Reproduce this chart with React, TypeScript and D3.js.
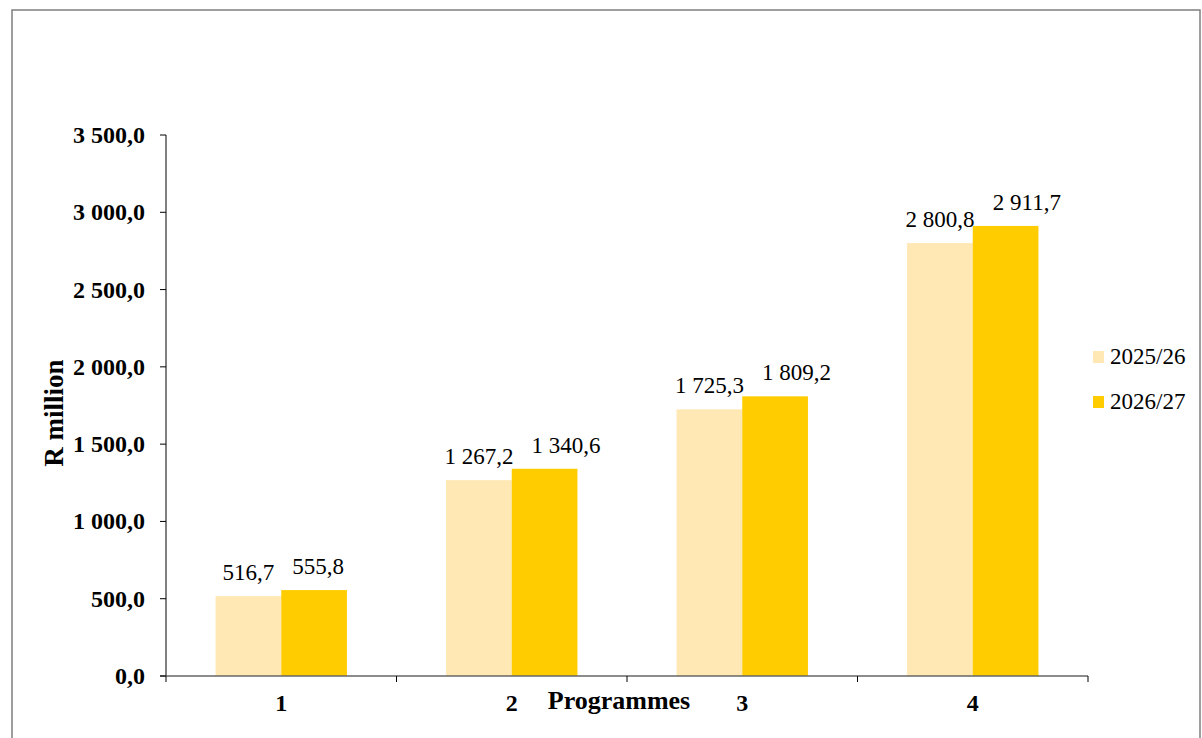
import React from "react";
import * as d3 from "d3";

const categories = ["1", "2", "3", "4"];
const seriesNames = ["2025/26", "2026/27"];
const values2025 = [516.7, 1267.2, 1725.3, 2800.8];
const values2026 = [555.8, 1340.6, 1809.2, 2911.7];
const yTicks = [0, 500, 1000, 1500, 2000, 2500, 3000, 3500];
const colors = ["#FFE8B3", "#FFCC00"];

const fmt = (v: number, dec: number) => {
  const s = v.toFixed(dec);
  const [i, d] = s.split(".");
  const ip = i.replace(/\B(?=(\d{3})+(?!\d))/g, " ");
  return d !== undefined ? ip + "," + d : ip;
};

const FONT = "Liberation Serif";
const LABEL_SIZE = 23;
// approximate Times advance widths: digits 0.5em, space/comma 0.25em
const textWidth = (s: string, size: number) =>
  s.split("").reduce((a, ch) => a + (/[0-9]/.test(ch) ? 0.5 : 0.25), 0) * size;

export default function App() {
  const W = 1202, H = 738;
  const left = 166, right = 1088, top = 135, bottom = 676;
  const x = d3.scaleBand<string>().domain(categories).range([left, right]).paddingInner(0).paddingOuter(0);
  const y = d3.scaleLinear().domain([0, 3500]).range([bottom, top]);
  const bw = x.bandwidth();
  const barW = bw * 0.285;
  const series = [values2025, values2026];
  const labelGap = 18;

  const bars = categories.flatMap((c, i) => {
    const cx = (x(c) as number) + bw / 2;
    const l0 = fmt(values2025[i], 1);
    const l1 = fmt(values2026[i], 1);
    const x0 = cx - barW / 2;
    const leftEnd = x0 + textWidth(l0, LABEL_SIZE) / 2;
    const x1c = cx + barW / 2;
    const x1 = Math.max(x1c, leftEnd + labelGap + textWidth(l1, LABEL_SIZE) / 2);
    return [
      { key: `0-${i}`, si: 0, v: values2025[i], bx: cx - barW, lx: x0, label: l0 },
      { key: `1-${i}`, si: 1, v: values2026[i], bx: cx, lx: x1, label: l1 },
    ];
  });

  return (
    <svg width={W} height={H} style={{ position: "absolute", left: 0, top: 0 }} fontFamily={FONT}>
      <rect x={0} y={0} width={W} height={H} fill="#fff" />
      <rect x={12} y={10} width={1188} height={740} fill="none" stroke="#7f7f7f" strokeWidth={1.5} />
      {bars.map((b) => (
        <g key={b.key}>
          <rect x={b.bx} y={y(b.v)} width={barW} height={bottom - y(b.v)} fill={colors[b.si]} />
          <text x={b.lx} y={y(b.v) - 16} textAnchor="middle" fontSize={LABEL_SIZE} fill="#000" fontFamily={FONT}>
            {b.label}
          </text>
        </g>
      ))}
      <line x1={left} x2={left} y1={top} y2={bottom} stroke="#000" strokeWidth={1} />
      <line x1={left - 6} x2={right} y1={bottom} y2={bottom} stroke="#666" strokeWidth={1.5} />
      {yTicks.map((t) => (
        <g key={t}>
          <line x1={left - 6} x2={left} y1={y(t)} y2={y(t)} stroke="#000" />
          <text x={145} y={y(t) + 8} textAnchor="end" fontSize={24} fontWeight="bold" fontFamily={FONT}>
            {fmt(t, 1)}
          </text>
        </g>
      ))}
      {[...categories.map((c) => x(c) as number), right].map((p, i) => (
        <line key={i} x1={p} x2={p} y1={bottom} y2={bottom + 6} stroke="#000" />
      ))}
      {categories.map((c) => (
        <text key={c} x={(x(c) as number) + bw / 2} y={711} textAnchor="middle" fontSize={24} fontWeight="bold" fontFamily={FONT}>
          {c}
        </text>
      ))}
      <text x={619} y={709} textAnchor="middle" fontSize={26} fontWeight="bold" fontFamily={FONT}>Programmes</text>
      <text transform={`translate(63,413) rotate(-90)`} textAnchor="middle" fontSize={27} fontWeight="bold" fontFamily={FONT}>R million</text>
      {seriesNames.map((n, i) => (
        <g key={n}>
          <rect x={1093} y={351 + i * 45} width={11} height={12} fill={colors[i]} />
          <text x={1110} y={364 + i * 45} fontSize={23} fontFamily={FONT}>{n}</text>
        </g>
      ))}
    </svg>
  );
}
